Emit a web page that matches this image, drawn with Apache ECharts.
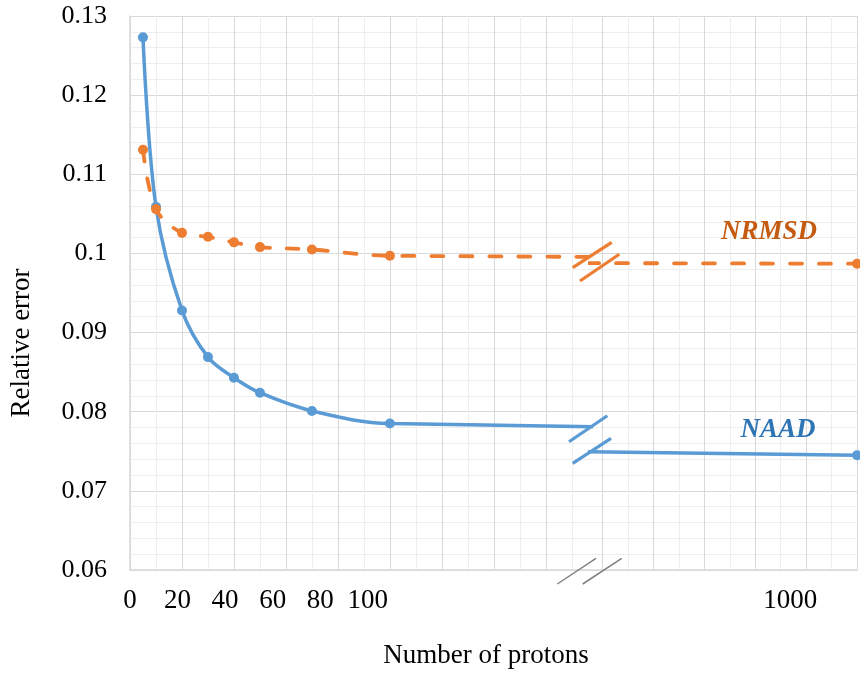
<!DOCTYPE html>
<html><head><meta charset="utf-8">
<script src="https://cdn.jsdelivr.net/npm/echarts@6/dist/echarts.min.js"></script>
<style>html,body{margin:0;padding:0;background:#fff}#c{width:860px;height:678px}</style>
</head><body><div id="c"></div>
<script>
// ---- data ----
const protons = [5, 10, 20, 30, 40, 50, 70, 100, 1000];
const naad    = [0.1273, 0.1059, 0.0928, 0.0869, 0.0843, 0.0824, 0.0801, 0.0785, 0.0745];
const nrmsd   = [0.1131, 0.1056, 0.1026, 0.1021, 0.1014, 0.1008, 0.1005, 0.0997, 0.0987];
const xTickLabelsLeft  = [0, 20, 40, 60, 80, 100];
const xTickLabelsRight = [1000];
const seriesNames = ['NAAD', 'NRMSD'];

const BLUE = '#5B9BD5', ORANGE = '#ED7D31';
const SERIF = '"Liberation Serif", "Times New Roman", serif';
const MAJOR = '#d9d9d9', MINOR = '#eeeeee';

const pairs = (ys) => protons.map((p, i) => [p, ys[i]]);

const yAxisBase = (grid, showLabels) => ({
  type: 'value', gridIndex: grid, min: 0.06, max: 0.13, interval: 0.01,
  axisLine: { show: showLabels, lineStyle: { color: MAJOR, width: 1.5 } },
  axisTick: { show: false },
  axisLabel: { show: showLabels, fontFamily: SERIF, fontSize: 26, color: '#000', margin: 23 },
  splitLine: { show: true, lineStyle: { color: MAJOR, width: 1 } },
  minorTick: { show: false, splitNumber: 5 },
  minorSplitLine: { show: true, lineStyle: { color: MINOR, width: 1 } }
});

const lineSeries = (name, ys, color, dashed, xi, yi) => ({
  name, type: 'line', xAxisIndex: xi, yAxisIndex: yi, data: pairs(ys),
  smooth: 0.35, clip: true, symbol: 'circle', symbolSize: 10, showSymbol: true,
  lineStyle: { color, width: dashed ? 3.8 : 3.5, type: dashed ? [12, 17] : 'solid', cap: 'round' },
  itemStyle: { color }, z: 3, animation: false
});

const chart = echarts.init(document.getElementById('c'), null, { renderer: 'canvas' });
chart.setOption({
  animation: false,
  backgroundColor: '#fff',
  grid: [
    { left: 130, top: 16, width: 460, bottom: 108 },
    { left: 590, top: 16, right: 0, bottom: 108 }
  ],
  xAxis: [
    { // left data axis
      type: 'value', gridIndex: 0, min: 0, max: 177, interval: 20,
      axisLine: { show: true, lineStyle: { color: MAJOR, width: 1.5 } },
      axisTick: { show: false }, axisLabel: { show: false },
      splitLine: { show: true, showMaxLine: false, lineStyle: { color: MAJOR, width: 1 } },
      minorTick: { show: false, splitNumber: 2 },
      minorSplitLine: { show: true, lineStyle: { color: MINOR, width: 1 } }
    },
    { // right data axis
      type: 'value', gridIndex: 1, min: 895, max: 1000, splitNumber: 5,
      axisLine: { show: true, lineStyle: { color: MAJOR, width: 1.5 } },
      axisTick: { show: false }, axisLabel: { show: false },
      splitLine: { show: true, showMinLine: false, lineStyle: { color: MAJOR, width: 1 } },
      minorTick: { show: false, splitNumber: 2 },
      minorSplitLine: { show: true, lineStyle: { color: MINOR, width: 1 } }
    },
    { // left tick-label axis
      type: 'value', gridIndex: 0, position: 'bottom', offset: 0, min: 0, max: 193.5, interval: 20,
      axisLine: { show: false }, axisTick: { show: false }, splitLine: { show: false },
      axisLabel: { show: true, fontFamily: SERIF, fontSize: 27, color: '#000', margin: 17,
        showMinLabel: true, showMaxLabel: true,
        formatter: (v) => xTickLabelsLeft.indexOf(Math.round(v)) >= 0 && Math.abs(v - Math.round(v)) < 1e-6 ? String(Math.round(v)) : '' }
    },
    { // right tick-label axis
      type: 'value', gridIndex: 1, position: 'bottom', offset: 0, min: 895, max: 1035, interval: 105,
      axisLine: { show: false }, axisTick: { show: false }, splitLine: { show: false },
      axisLabel: { show: true, fontFamily: SERIF, fontSize: 27, color: '#000', margin: 17,
        showMinLabel: true, showMaxLabel: true,
        formatter: (v) => xTickLabelsRight.indexOf(Math.round(v)) >= 0 && Math.abs(v - Math.round(v)) < 1e-6 ? String(Math.round(v)) : '' }
    }
  ],
  yAxis: [ yAxisBase(0, true), yAxisBase(1, false) ],
  series: [
    lineSeries(seriesNames[0], naad, BLUE, false, 0, 0),
    lineSeries(seriesNames[0], naad, BLUE, false, 1, 1),
    lineSeries(seriesNames[1], nrmsd, ORANGE, true, 0, 0),
    lineSeries(seriesNames[1], nrmsd, ORANGE, true, 1, 1)
  ],
  graphic: [
    // break marks on the series
    { type: 'line', shape: { x1: 569, y1: 441.7, x2: 607.3, y2: 415.7 }, style: { stroke: BLUE, lineWidth: 3.2 }, z: 10 },
    { type: 'line', shape: { x1: 572.7, y1: 463.3, x2: 611, y2: 438.3 }, style: { stroke: BLUE, lineWidth: 3.2 }, z: 10 },
    { type: 'line', shape: { x1: 572.7, y1: 267.7, x2: 611.7, y2: 242.3 }, style: { stroke: ORANGE, lineWidth: 3.2 }, z: 10 },
    { type: 'line', shape: { x1: 580, y1: 281, x2: 619.3, y2: 254.3 }, style: { stroke: ORANGE, lineWidth: 3.2 }, z: 10 },
    // break marks on the x axis
    { type: 'line', shape: { x1: 557.3, y1: 584, x2: 596, y2: 558.3 }, style: { stroke: '#808080', lineWidth: 1.5 }, z: 10 },
    { type: 'line', shape: { x1: 582.7, y1: 584, x2: 621.7, y2: 558.3 }, style: { stroke: '#808080', lineWidth: 1.5 }, z: 10 },
    // series labels
    { type: 'text', x: 769, y: 232, z: 10, style: { text: seriesNames[1], font: 'italic bold 27px ' + SERIF, fill: '#C55A11', align: 'center', verticalAlign: 'middle' } },
    { type: 'text', x: 778, y: 430, z: 10, style: { text: seriesNames[0], font: 'italic bold 27px ' + SERIF, fill: '#2E75B6', align: 'center', verticalAlign: 'middle' } },
    // axis titles
    { type: 'text', x: 22, y: 343, rotation: Math.PI / 2, z: 10, style: { text: 'Relative error', font: '27px ' + SERIF, fill: '#000', align: 'center', verticalAlign: 'middle' } },
    { type: 'text', x: 486, y: 656, z: 10, style: { text: 'Number of protons', font: '27px ' + SERIF, fill: '#000', align: 'center', verticalAlign: 'middle' } }
  ]
});
</script>
</body></html>
